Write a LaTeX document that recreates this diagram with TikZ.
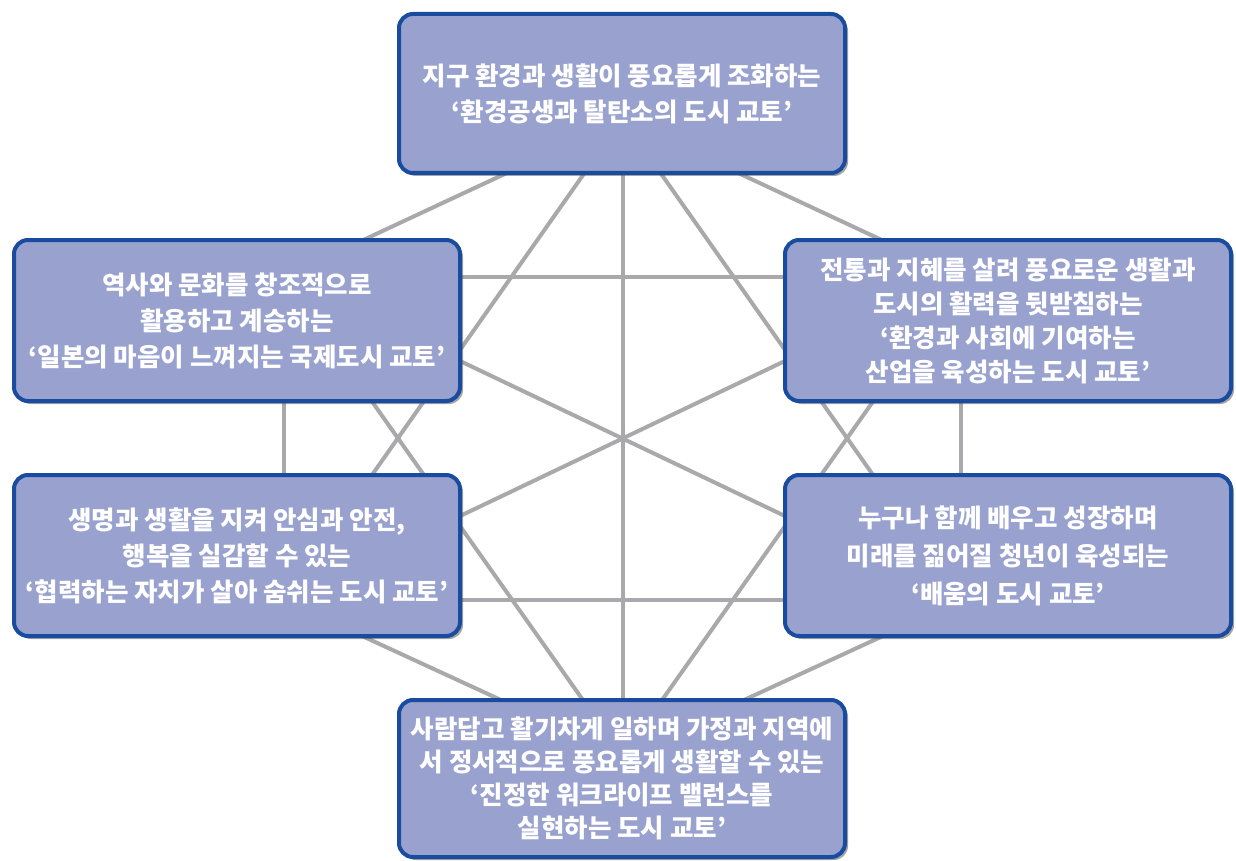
\documentclass[tikz,border=0pt]{standalone}
\usepackage{fontspec}
\setmainfont{Noto Sans CJK KR}
\usetikzlibrary{shadows}
\definecolor{boxfill}{HTML}{99A2CF}
\definecolor{boxline}{HTML}{194C9F}
\definecolor{edgegray}{HTML}{A9A9AB}
\tikzset{
  goalbox/.style={draw=boxline, line width=4pt, fill=boxfill, rounded corners=14pt,
    minimum width=446pt, minimum height=#1, align=center, inner sep=0pt,
    text=white, font=\fontsize{25.5}{36}\selectfont\bfseries,
    drop shadow={shadow xshift=3pt, shadow yshift=-3pt, opacity=0.5, fill=black!70}},
  goalbox/.default=161pt,
  link/.style={draw=edgegray, line width=4pt}
}
\begin{document}
\begin{tikzpicture}[x=1pt,y=-1pt]
\useasboundingbox (0,0) rectangle (1236,861);
% hexagon vertices
\coordinate (V1) at (622.5,119);
\coordinate (V2) at (284,277);
\coordinate (V3) at (284,600);
\coordinate (V4) at (622.5,756);
\coordinate (V5) at (961,600);
\coordinate (V6) at (961,277);
% all connections
\foreach \a/\b in {V1/V2,V1/V3,V1/V4,V1/V5,V1/V6,V2/V3,V2/V4,V2/V5,V2/V6,V3/V4,V3/V5,V3/V6,V4/V5,V4/V6,V5/V6}
  \draw[link] (\a) -- (\b);
% boxes
\node[goalbox=159pt] (T) at (622,93.5) {지구 환경과 생활이 풍요롭게 조화하는\\‘환경공생과 탈탄소의 도시 교토’};
\node[goalbox=161pt] (LU) at (237,320.5) {역사와 문화를 창조적으로\\활용하고 계승하는\\‘일본의 마음이 느껴지는 국제도시 교토’};
\node[goalbox=161pt, font=\fontsize{25.5}{34}\selectfont\bfseries] (RU) at (1008,320.5) {전통과 지혜를 살려 풍요로운 생활과\\도시의 활력을 뒷받침하는\\‘환경과 사회에 기여하는\\산업을 육성하는 도시 교토’};
\node[goalbox=161pt] (LL) at (237,555.5) {생명과 생활을 지켜 안심과 안전,\\행복을 실감할 수 있는\\‘협력하는 자치가 살아 숨쉬는 도시 교토’};
\node[goalbox=161pt, font=\fontsize{25.5}{38}\selectfont\bfseries] (RL) at (1008,555.5) {누구나 함께 배우고 성장하며\\미래를 짊어질 청년이 육성되는\\‘배움의 도시 교토’};
\node[goalbox=157pt, font=\fontsize{25.5}{33}\selectfont\bfseries] (B) at (622,778.5) {사람답고 활기차게 일하며 가정과 지역에\\서 정서적으로 풍요롭게 생활할 수 있는\\‘진정한 워크라이프 밸런스를\\실현하는 도시 교토’};
\end{tikzpicture}
\end{document}
